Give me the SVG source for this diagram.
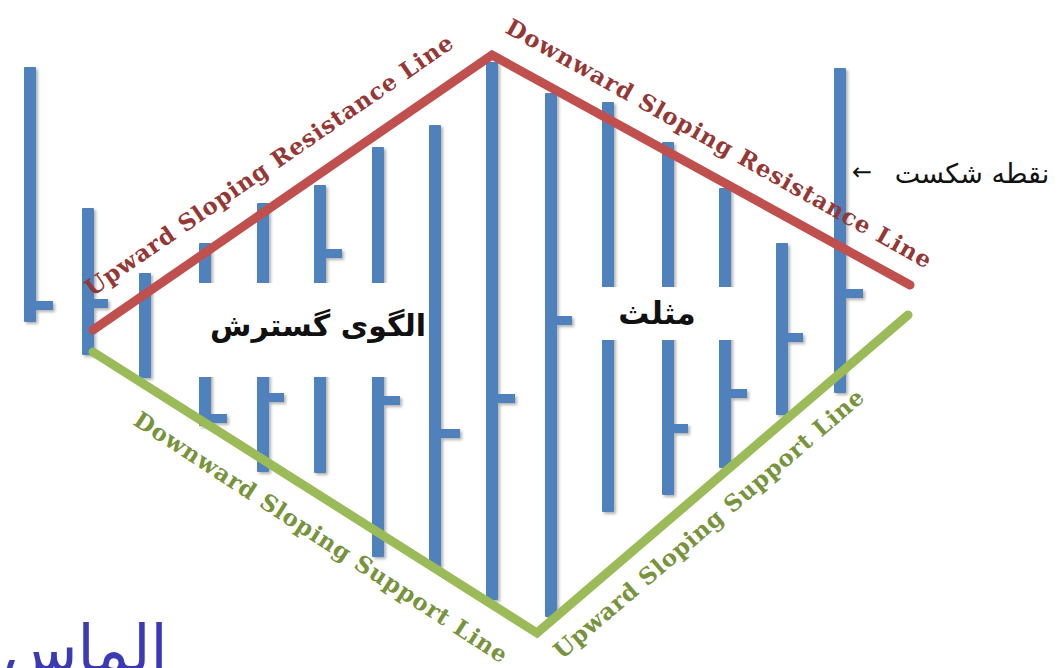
<svg xmlns="http://www.w3.org/2000/svg" width="1061" height="668" viewBox="0 0 1061 668">
  <style>
    .bar { fill: #4f81bd; }
    .box { fill: #ffffff; }
    .res { fill: none; stroke: #c0504d; stroke-width: 9; stroke-linecap: round; stroke-linejoin: miter; }
    .sup { fill: none; stroke: #9bbb59; stroke-width: 9; stroke-linecap: round; stroke-linejoin: miter; }
    .lblR { font-family: "DejaVu Serif", "Liberation Serif", serif; font-weight: bold; font-size: 23px; fill: #953735; }
    .lblG { font-family: "DejaVu Serif", "Liberation Serif", serif; font-weight: bold; font-size: 23px; fill: #77933c; }
    .fa { font-family: "DejaVu Sans", "Noto Sans", sans-serif; fill: #111111; }
  </style>
  <defs>
    <filter id="sh" x="-50%" y="-5%" width="200%" height="110%">
      <feDropShadow dx="2" dy="2" stdDeviation="1.5" flood-color="#000000" flood-opacity="0.3"/>
    </filter>
  </defs>
  <rect x="0" y="0" width="1061" height="668" fill="#ffffff"/>

  <g id="bars" filter="url(#sh)">
    <g id="bar-1"><rect class="bar" x="24" y="67" width="12" height="255" rx="1"/><rect class="bar" x="30" y="301" width="23" height="9"/></g>
    <g id="bar-2"><rect class="bar" x="82" y="208" width="12" height="147" rx="1"/><rect class="bar" x="88" y="299" width="20" height="9"/></g>
    <g id="bar-3"><rect class="bar" x="139" y="273" width="12" height="105" rx="1"/></g>
    <g id="bar-4"><rect class="bar" x="199" y="243" width="12" height="183" rx="1"/><rect class="bar" x="205" y="414" width="22" height="9"/></g>
    <g id="bar-5"><rect class="bar" x="257" y="203" width="12" height="269" rx="1"/><rect class="bar" x="263" y="393" width="21" height="9"/></g>
    <g id="bar-6"><rect class="bar" x="314" y="185" width="12" height="288" rx="1"/><rect class="bar" x="320" y="249" width="22" height="9"/></g>
    <g id="bar-7"><rect class="bar" x="372" y="147" width="12" height="410" rx="1"/><rect class="bar" x="378" y="396" width="22" height="9"/></g>
    <g id="bar-8"><rect class="bar" x="429" y="125" width="12" height="442" rx="1"/><rect class="bar" x="435" y="429" width="25" height="9"/></g>
    <g id="bar-9"><rect class="bar" x="486" y="62" width="12" height="538" rx="1"/><rect class="bar" x="492" y="394" width="23" height="9"/></g>
    <g id="bar-10"><rect class="bar" x="545" y="93" width="12" height="524" rx="1"/><rect class="bar" x="551" y="316" width="21" height="9"/></g>
    <g id="bar-11"><rect class="bar" x="602" y="102" width="12" height="410" rx="1"/></g>
    <g id="bar-12"><rect class="bar" x="662" y="142" width="12" height="353" rx="1"/><rect class="bar" x="668" y="424" width="20" height="9"/></g>
    <g id="bar-13"><rect class="bar" x="719" y="188" width="12" height="280" rx="1"/><rect class="bar" x="725" y="389" width="22" height="9"/></g>
    <g id="bar-14"><rect class="bar" x="776" y="243" width="12" height="172" rx="1"/><rect class="bar" x="782" y="333" width="21" height="9"/></g>
    <g id="bar-15"><rect class="bar" x="834" y="68" width="12" height="325" rx="1"/><rect class="bar" x="840" y="289" width="23" height="9"/></g>
  </g>

  <g id="label-expanding">
    <rect class="box" x="197" y="283" width="231" height="94"/>
    <text class="fa" x="318" y="336" font-size="30" font-weight="bold" text-anchor="middle">الگوی گسترش</text>
  </g>
  <g id="label-triangle">
    <rect class="box" x="590" y="287" width="160" height="53"/>
    <text class="fa" x="657" y="324" font-size="31" font-weight="bold" text-anchor="middle">مثلث</text>
  </g>

  <g id="connectors">
    <path class="res" d="M93 330 L492 55 L910 285"/>
    <path class="sup" d="M93 352 L537 633 L908 315"/>
  </g>

  <g id="line-labels">
    <text class="lblR" transform="translate(92 297) rotate(-34.6)" textLength="441" lengthAdjust="spacing">Upward Sloping Resistance Line</text>
    <text class="lblR" transform="translate(504 32) rotate(29.3)" textLength="484" lengthAdjust="spacing">Downward Sloping Resistance Line</text>
    <text class="lblG" transform="translate(132 424) rotate(33)" textLength="440" lengthAdjust="spacing">Downward Sloping Support Line</text>
    <text class="lblG" transform="translate(562 660) rotate(-40.6)" textLength="400" lengthAdjust="spacing">Upward Sloping Support Line</text>
  </g>

  <g id="breakout-label">
    <text class="fa" x="972" y="183" font-size="27" text-anchor="middle">نقطه شکست</text>
    <text class="fa" x="862" y="180" font-size="24" text-anchor="middle">←</text>
  </g>

  <g id="watermark">
    <text x="85" y="672" font-family="DejaVu Sans, sans-serif" font-size="66" fill="#3a3ab4" text-anchor="middle" textLength="165" lengthAdjust="spacingAndGlyphs">الماس</text>
  </g>
</svg>
